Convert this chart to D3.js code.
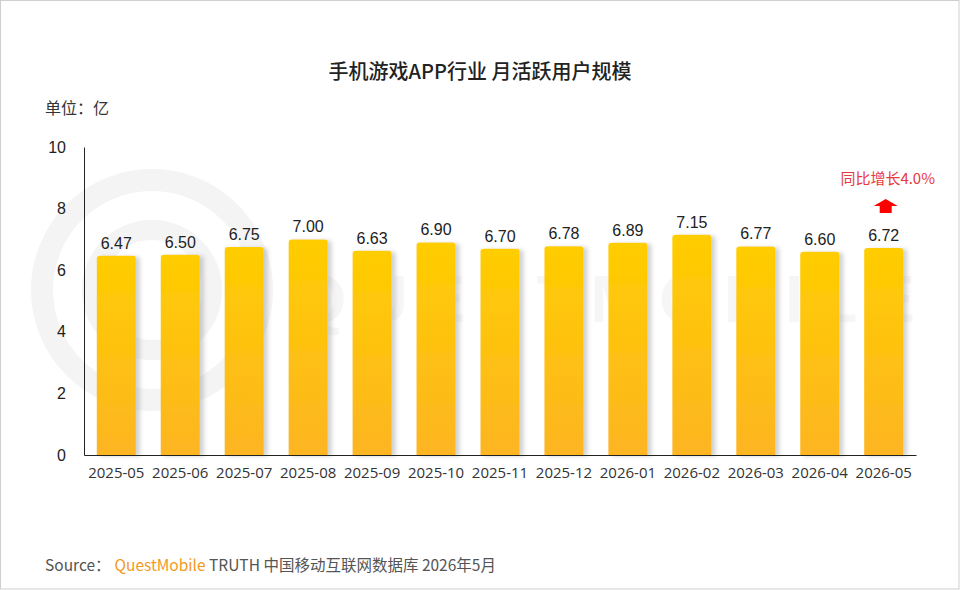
<!DOCTYPE html>
<html><head><meta charset="utf-8">
<script src="https://cdn.jsdelivr.net/npm/d3@7/dist/d3.min.js"></script>
<style>
html,body{margin:0;padding:0;background:#fff;}
svg{display:block;}
</style></head>
<body>
<svg id="chart" width="960" height="590"></svg>
<script>
const categories = ["2025-05","2025-06","2025-07","2025-08","2025-09","2025-10","2025-11","2025-12","2026-01","2026-02","2026-03","2026-04","2026-05"];
const values = [6.47,6.50,6.75,7.00,6.63,6.90,6.70,6.78,6.89,7.15,6.77,6.60,6.72];
const yTicks = [0,2,4,6,8,10];
const titleText = "手机游戏APP行业 月活跃用户规模";
const unitText = "单位：亿";
const growthText = "同比增长4.0%";

const svg = d3.select("#chart");
const W = 960, H = 590;
const m = {left:84, right:44, top:147, bottom:135};

// border
svg.append("rect").attr("x",0.5).attr("y",0.5).attr("width",W-1.5).attr("height",H-1.5)
  .attr("fill","#fff").attr("stroke","#cfcfcf");

const defs = svg.append("defs");
const grad = defs.append("linearGradient").attr("id","barGrad").attr("x1",0).attr("y1",0).attr("x2",0).attr("y2",1);
grad.append("stop").attr("offset","0%").attr("stop-color","#FFCD00");
grad.append("stop").attr("offset","100%").attr("stop-color","#FDB522");
const f = defs.append("filter").attr("id","shadow").attr("x","-20%").attr("y","-10%").attr("width","150%").attr("height","120%");
f.append("feDropShadow").attr("dx",4).attr("dy",1).attr("stdDeviation",2).attr("flood-color","#999").attr("flood-opacity",0.45);

// watermark
const wm = svg.append("g").attr("fill","none").attr("stroke","#f4f4f4");
wm.append("circle").attr("cx",152).attr("cy",290).attr("r",110).attr("stroke-width",22);
wm.append("circle").attr("cx",152).attr("cy",290).attr("r",60).attr("stroke-width",20);
svg.append("text").attr("x",295).attr("y",322).attr("font-family","Arial, 'Liberation Sans', sans-serif")
  .attr("font-size",66).attr("font-weight","bold").attr("fill","#f6f6f6")
  .attr("textLength",620).attr("lengthAdjust","spacing")
  .text("QUESTMOBILE");

const x = d3.scaleBand().domain(categories).range([m.left, W - m.right]).paddingInner(0.39).paddingOuter(0.2);
const y = d3.scaleLinear().domain([0,10]).range([H - m.bottom, m.top]);

// title
svg.append("text").attr("x",480).attr("y",79).attr("text-anchor","middle")
  .attr("font-family","'Noto Sans CJK SC', sans-serif").attr("font-size",20).attr("font-weight",500)
  .attr("fill","#222").text(titleText);
svg.append("text").attr("x",45).attr("y",114)
  .attr("font-family","'Noto Sans CJK SC', sans-serif").attr("font-size",16).attr("fill","#333").text(unitText);

// bars
const r = 3;
svg.append("g").attr("filter","url(#shadow)").selectAll("path").data(values).join("path")
  .attr("fill","url(#barGrad)")
  .attr("d",(d,i)=>{
    const x0 = x(categories[i]), w = x.bandwidth(), y0 = y(d), y1 = y(0);
    return `M${x0},${y1}V${y0+r}Q${x0},${y0} ${x0+r},${y0}H${x0+w-r}Q${x0+w},${y0} ${x0+w},${y0+r}V${y1}Z`;
  });

// value labels
svg.append("g").selectAll("text").data(values).join("text")
  .attr("x",(d,i)=>x(categories[i]) + x.bandwidth()/2)
  .attr("y",d=>y(d) - 7)
  .attr("text-anchor","middle")
  .attr("font-family","Arial, 'Liberation Sans', sans-serif").attr("font-size",16).attr("fill","#222")
  .text(d=>d.toFixed(2));

// axes
const yAxis = svg.append("g").attr("transform",`translate(${m.left},0)`)
  .call(d3.axisLeft(y).tickValues(yTicks).tickSize(0).tickPadding(18));
yAxis.select(".domain").attr("stroke","#222");
yAxis.selectAll("text").attr("font-family","Arial, 'Liberation Sans', sans-serif").attr("font-size",16).attr("fill","#222");

const xAxis = svg.append("g").attr("transform",`translate(0,${y(0)})`)
  .call(d3.axisBottom(x).tickSize(0).tickPadding(12));
xAxis.select(".domain").attr("stroke","#222");
xAxis.selectAll("text").attr("font-family","'Open Sans', 'Noto Sans', sans-serif").attr("font-size",15).attr("fill","#333");

// growth annotation
const last = categories[categories.length-1];
const cx = x(last) + x.bandwidth()/2 + 2;
svg.append("text").attr("x",cx+2).attr("y",184).attr("text-anchor","middle")
  .attr("font-family","'Noto Sans CJK SC', sans-serif").attr("font-size",15).attr("fill","#e8383d").text(growthText);
svg.append("path")
  .attr("d",`M${cx},199 L${cx+12},206 H${cx+6} V213 H${cx-6} V206 H${cx-12} Z`)
  .attr("fill","#f00");

// footer
const ft = svg.append("text").attr("x",45).attr("y",571)
  .attr("font-family","'Noto Sans CJK SC', sans-serif").attr("font-size",15.5).attr("fill","#555");
ft.append("tspan").text("Source：");
ft.append("tspan").attr("fill","#f39a1e").attr("dx",4).text("QuestMobile");
ft.append("tspan").text(" TRUTH 中国移动互联网数据库 2026年5月");
</script>
</body></html>
